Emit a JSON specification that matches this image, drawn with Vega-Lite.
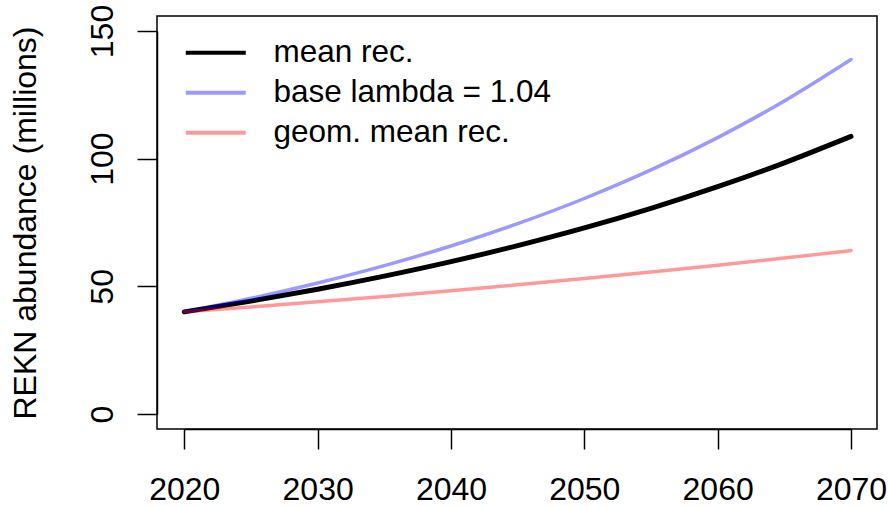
{
  "$schema": "https://vega.github.io/schema/vega-lite/v6.json",
  "width": 720,
  "height": 413,
  "autosize": {"type": "none"},
  "padding": {"left": 157, "top": 16, "right": 11, "bottom": 77},
  "background": "white",
  "config": {
    "view": {"stroke": "black", "strokeWidth": 1.5},
    "font": "Liberation Sans",
    "axis": {"grid": false, "labelFont": "Liberation Sans", "titleFont": "Liberation Sans", "labelColor": "black", "titleColor": "black", "tickColor": "black", "domainColor": "black", "tickWidth": 1.5, "domainWidth": 1.5}
  },
  "data": {"values": [
    {"year": 2020, "series": "mean rec.", "value": 40.0},
    {"year": 2025, "series": "mean rec.", "value": 44.21},
    {"year": 2030, "series": "mean rec.", "value": 48.86},
    {"year": 2035, "series": "mean rec.", "value": 54.0},
    {"year": 2040, "series": "mean rec.", "value": 59.67},
    {"year": 2045, "series": "mean rec.", "value": 65.95},
    {"year": 2050, "series": "mean rec.", "value": 72.88},
    {"year": 2055, "series": "mean rec.", "value": 80.55},
    {"year": 2060, "series": "mean rec.", "value": 89.02},
    {"year": 2065, "series": "mean rec.", "value": 98.38},
    {"year": 2070, "series": "mean rec.", "value": 108.73},
    {"year": 2020, "series": "base lambda = 1.04", "value": 40.0},
    {"year": 2025, "series": "base lambda = 1.04", "value": 45.3},
    {"year": 2030, "series": "base lambda = 1.04", "value": 51.3},
    {"year": 2035, "series": "base lambda = 1.04", "value": 58.1},
    {"year": 2040, "series": "base lambda = 1.04", "value": 65.8},
    {"year": 2045, "series": "base lambda = 1.04", "value": 74.52},
    {"year": 2050, "series": "base lambda = 1.04", "value": 84.4},
    {"year": 2055, "series": "base lambda = 1.04", "value": 95.58},
    {"year": 2060, "series": "base lambda = 1.04", "value": 108.26},
    {"year": 2065, "series": "base lambda = 1.04", "value": 122.6},
    {"year": 2070, "series": "base lambda = 1.04", "value": 138.84},
    {"year": 2020, "series": "geom. mean rec.", "value": 40.0},
    {"year": 2025, "series": "geom. mean rec.", "value": 41.92},
    {"year": 2030, "series": "geom. mean rec.", "value": 43.94},
    {"year": 2035, "series": "geom. mean rec.", "value": 46.06},
    {"year": 2040, "series": "geom. mean rec.", "value": 48.27},
    {"year": 2045, "series": "geom. mean rec.", "value": 50.6},
    {"year": 2050, "series": "geom. mean rec.", "value": 53.03},
    {"year": 2055, "series": "geom. mean rec.", "value": 55.58},
    {"year": 2060, "series": "geom. mean rec.", "value": 58.26},
    {"year": 2065, "series": "geom. mean rec.", "value": 61.06},
    {"year": 2070, "series": "geom. mean rec.", "value": 64.0}
  ]},
  "encoding": {
    "x": {"field": "year", "type": "quantitative",
      "scale": {"domain": [2020, 2070], "range": [27.3, 694], "nice": false, "zero": false},
      "axis": {"title": null, "values": [2020, 2030, 2040, 2050, 2060, 2070], "format": "d", "labelFontSize": 32, "tickSize": 20, "labelPadding": 25, "labelFlush": false, "labelOverlap": false}},
    "y": {"field": "value", "type": "quantitative",
      "scale": {"domain": [0, 150], "range": [398, 15], "nice": false, "zero": false},
      "axis": {"title": "REKN abundance (millions)", "values": [0, 50, 100, 150], "labelFontSize": 32, "tickSize": 20, "labelAngle": -90, "labelAlign": "center", "labelBaseline": "bottom", "labelPadding": 18, "titleFontSize": 32, "titleFontWeight": "normal", "titlePadding": 44}},
    "color": {"field": "series", "type": "nominal",
      "scale": {"domain": ["mean rec.", "base lambda = 1.04", "geom. mean rec."], "range": ["black", "rgba(0,0,255,0.4)", "rgba(255,0,0,0.4)"]},
      "legend": {"title": null, "orient": "none", "legendX": 43, "legendY": 21, "symbolType": "M-3,0H3", "symbolSize": 400, "symbolStrokeWidth": 4, "labelFontSize": 31.5, "labelFont": "Liberation Sans", "labelColor": "black", "labelOffset": 42, "rowPadding": 7, "padding": 0, "labelLimit": 0}}
  },
  "layer": [
    {"transform": [{"filter": "datum.series === 'mean rec.'"}],
     "mark": {"type": "line", "strokeWidth": 5, "strokeCap": "round", "interpolate": "monotone"}},
    {"transform": [{"filter": "datum.series !== 'mean rec.'"}],
     "mark": {"type": "line", "strokeWidth": 3.5, "strokeCap": "round", "interpolate": "monotone"}}
  ]
}
